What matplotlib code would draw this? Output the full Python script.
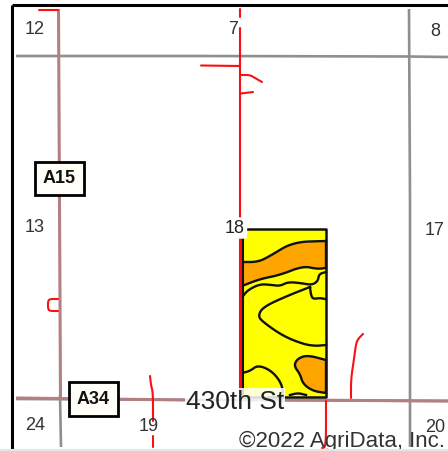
import matplotlib
matplotlib.use("Agg")
import matplotlib.pyplot as plt
from matplotlib.patches import Polygon, Rectangle

plt.rcParams['font.family'] = ['Liberation Sans', 'DejaVu Sans']

W, H = 448, 452
GRAY = "#8f8f8f"
PINK = "#b27f82"
RED = "#fb0f12"
YELLOW = "#ffff00"
ORANGE = "#ffa500"

gray_roads = [
    ([16, 200, 409, 448], [57, 57, 57.5, 58]),
    ([409, 410, 410], [10, 200, 448]),
    ([60, 61], [396, 448]),
    ([16, 448], [400, 402]),
]
pink_roads = [
    ([58.5, 60.5], [10, 400]),
    ([16, 185], [399, 401]),
    ([285, 448], [401, 402]),
]
red_lines = [
    ([39, 58], [10.5, 10.5]),
    ([240, 240], [10, 18]),
    ([240, 240, 240], [29, 200, 398]),
    ([201, 240], [66.5, 67]),
    ([241, 250, 255, 262], [76, 76, 79, 83]),
    ([241, 253], [94.5, 93]),
    ([58, 50, 48, 48, 50, 58], [300, 300, 302, 310, 312, 312]),
    ([150, 151, 153, 153], [377, 386, 394, 422]),
    ([153, 153], [437, 448]),
    ([326, 326, 322], [402, 448, 449]),
    ([363, 358, 356, 354, 351, 351], [335, 340, 345, 360, 380, 399]),
]

field_x = [242, 326]
field_y = [230, 398]
orange_band_top = [(242, 263), (258, 263), (270, 257), (293, 243), (326, 242)]
orange_band_bottom = [(326, 269), (317, 270), (303, 267), (280, 276), (260, 280), (242, 287)]
orange_patch = [(326, 361), (307, 356), (297, 360), (294, 367), (300, 375), (303, 385),
                (313, 392), (326, 394)]
soil_lines = [
    ([243, 248, 260, 272, 280, 288, 300, 312, 318, 319, 326],
     [297, 291, 285, 286, 287, 283, 284, 286, 282, 275, 273]),
    ([310, 287, 263, 258, 263, 283, 303, 315, 326],
     [288, 297, 308, 317, 323, 337, 345, 347, 346]),
    ([310, 311, 313, 320, 325], [288, 296, 300, 299, 300]),
    ([242, 250, 258, 272, 282, 283], [374, 372, 366, 372, 385, 397]),
    ([290, 298, 306], [396, 394, 396]),
]

labels = [
    ("12", 35, 30, 13), ("7", 233, 30, 13), ("8", 435, 31, 13),
    ("13", 35, 228, 13), ("17", 435, 231, 13), ("24", 35, 426, 13),
    ("19", 149, 427, 13), ("20", 435, 428, 13),
]
shields = [("A15", 59.5, 179, 49, 33, 13), ("A34", 93.5, 400, 49, 34, 13)]


def smooth(points, rounds=3):
    """Round the corners of a hand-traced outline, keeping its end points."""
    for _ in range(rounds):
        out = [points[0]]
        for (x0, y0), (x1, y1) in zip(points, points[1:]):
            out.append((0.75 * x0 + 0.25 * x1, 0.75 * y0 + 0.25 * y1))
            out.append((0.25 * x0 + 0.75 * x1, 0.25 * y0 + 0.75 * y1))
        out.append(points[-1])
        points = out
    return points


fig = plt.figure(figsize=(W / 100, H / 100), dpi=100)
ax = fig.add_axes([0, 0, 1, 1])
ax.set_xlim(0, W)
ax.set_ylim(H, 0)
ax.axis("off")

for xs, ys in gray_roads:
    ax.plot(xs, ys, color=GRAY, lw=1.9, solid_capstyle="butt", zorder=1)
for xs, ys in pink_roads:
    ax.plot(xs, ys, color=PINK, lw=2.2, solid_capstyle="butt", zorder=2)
for xs, ys in red_lines:
    pts = smooth(list(zip(xs, ys)), 2)
    ax.plot(*zip(*pts), color=RED, lw=1.5, solid_capstyle="round", zorder=3)

ax.add_patch(Rectangle((field_x[0], field_y[0]), field_x[1] - field_x[0], field_y[1] - field_y[0],
                       fc=YELLOW, ec="none", zorder=4))
band = smooth(orange_band_top) + smooth(orange_band_bottom)
ax.add_patch(Polygon(band, closed=True, fc=ORANGE, ec="#111111", lw=1.7, zorder=5))
ax.add_patch(Polygon(smooth(orange_patch), closed=True, fc=ORANGE, ec="#111111", lw=1.7, zorder=5))
for xs, ys in soil_lines:
    pts = smooth(list(zip(xs, ys)))
    ax.plot(*zip(*pts), color="#111111", lw=1.7, zorder=6)
ax.plot([field_x[0], field_x[1], field_x[1], field_x[0]],
        [field_y[0], field_y[0], field_y[1], field_y[1]], color="#111111", lw=1.8, zorder=7)
ax.plot([field_x[0] - 1.5, field_x[0] - 1.5], [field_y[0] + 10, field_y[1]], color=RED, lw=1.6, zorder=7)
ax.plot([field_x[0] + 1, field_x[0] + 1], [field_y[0] + 10, field_y[1]], color="#111111", lw=1.5, zorder=7)

ax.text(235, 229, "18", fontsize=13, ha="center", va="center", color="#222222", zorder=9,
        bbox=dict(boxstyle="round,pad=0.12", fc="white", ec="none"))
for s, x, y, size in labels:
    ax.text(x, y, s, fontsize=size, ha="center", va="center", color="#333333", zorder=9)

for s, x, y, w, h, size in shields:
    ax.add_patch(Rectangle((x - w / 2, y - h / 2), w, h, fc="#fffff8", ec="black", lw=2, zorder=10))
    ax.text(x, y, s, fontsize=size, fontweight="bold", ha="center", va="center", color="#111111", zorder=11)

ax.text(235, 402, "430th St", fontsize=19, ha="center", va="center", color="#222222", zorder=9,
        bbox=dict(boxstyle="square,pad=0.02", fc="white", ec="none", alpha=0.85))
ax.text(342, 441, "©2022 AgriData, Inc.", fontsize=16, ha="center", va="center", color="#333333", zorder=9)

ax.plot([11.5, 11.5], [6, H], color="black", lw=2.2, solid_capstyle="butt", zorder=12)
ax.plot([11.5, W], [6, 6], color="black", lw=2.2, solid_capstyle="butt", zorder=12)
ax.plot([0, W], [451, 451], color="#e6e6e6", lw=1.5, zorder=12)

fig.savefig("out.png", dpi=100)
